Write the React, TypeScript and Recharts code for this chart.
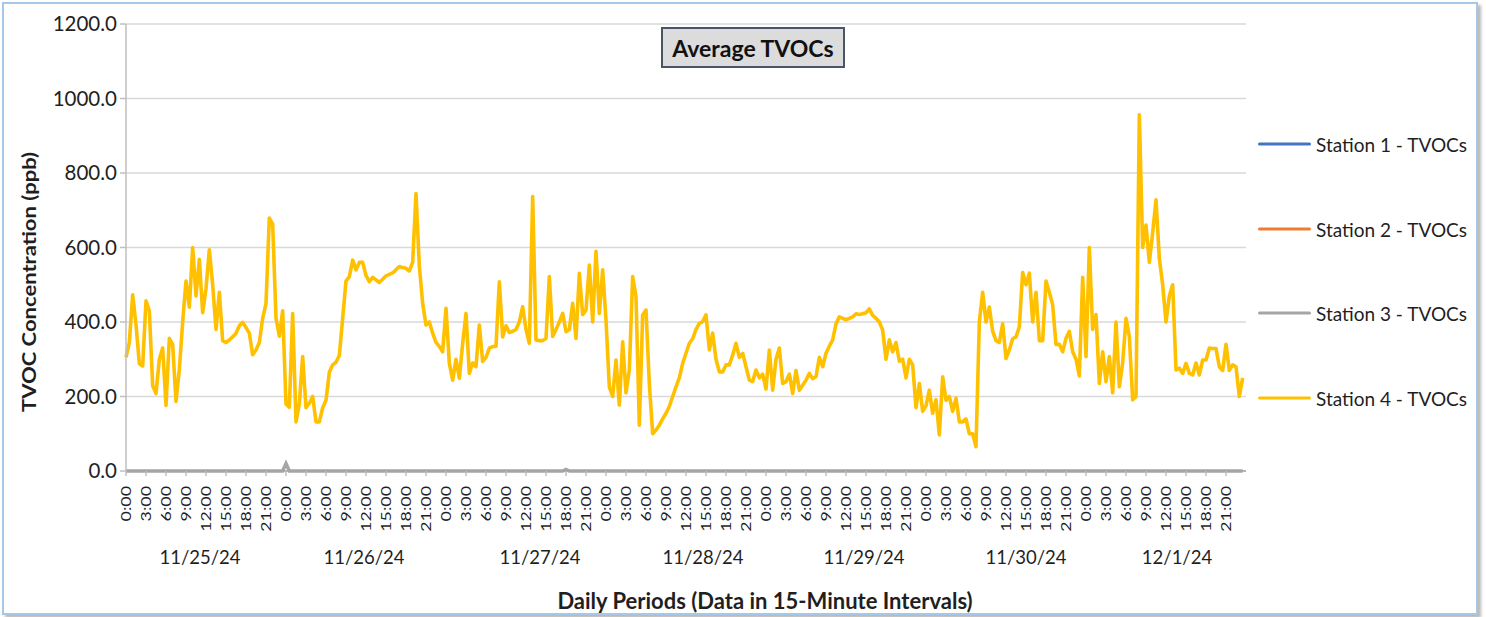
import { LineChart, Line, XAxis, YAxis, CartesianGrid } from "recharts";

// one reading every 30 minutes, 48 per day
const SLOTS = 48;
const SLOTS_PER_TICK = 6;

const days = ["11/25/24", "11/26/24", "11/27/24", "11/28/24", "11/29/24", "11/30/24", "12/1/24"];
const hourLabels = ["0:00", "3:00", "6:00", "9:00", "12:00", "15:00", "18:00", "21:00"];
const yTicks = [0, 200, 400, 600, 800, 1000, 1200];

// Station 4 - TVOCs (ppb)
const st4Nov25 = [305, 345, 473, 393, 288, 282, 457, 430, 229, 208, 300, 330, 176, 356, 340, 187, 272, 400, 510, 440, 600, 470, 568, 425, 490, 594, 500, 380, 480, 350, 345, 352, 360, 370, 390, 399, 385, 370, 312, 325, 345, 410, 450, 679, 663, 410, 362, 430];
const st4Nov26 = [180, 171, 423, 132, 180, 307, 170, 182, 200, 132, 132, 170, 190, 265, 285, 292, 310, 410, 510, 522, 566, 540, 560, 560, 525, 508, 520, 513, 506, 515, 524, 528, 532, 540, 549, 546, 544, 537, 560, 745, 550, 450, 392, 400, 370, 345, 334, 320];
const st4Nov27 = [437, 289, 244, 300, 249, 343, 423, 262, 290, 280, 392, 294, 305, 330, 334, 335, 508, 360, 390, 372, 375, 380, 400, 441, 380, 343, 737, 352, 350, 350, 356, 522, 361, 380, 400, 423, 374, 380, 450, 356, 531, 420, 432, 553, 400, 590, 423, 540];
const st4Nov28 = [405, 226, 200, 298, 177, 347, 210, 271, 522, 468, 123, 419, 432, 235, 100, 110, 123, 140, 155, 173, 200, 226, 250, 289, 316, 343, 355, 380, 396, 401, 419, 325, 370, 300, 266, 266, 285, 285, 311, 343, 305, 316, 280, 244, 240, 271, 250, 260];
const st4Nov29 = [220, 325, 217, 300, 330, 235, 240, 260, 208, 270, 217, 230, 244, 262, 248, 253, 305, 280, 316, 335, 352, 395, 414, 410, 406, 410, 414, 422, 420, 422, 425, 435, 418, 410, 400, 378, 300, 352, 320, 345, 295, 300, 250, 300, 285, 170, 235, 160];
const st4Nov30 = [175, 217, 155, 191, 97, 253, 190, 200, 160, 195, 132, 132, 140, 100, 100, 65, 400, 480, 400, 440, 375, 350, 345, 395, 302, 325, 355, 360, 387, 533, 500, 531, 400, 480, 350, 350, 510, 480, 446, 340, 340, 320, 356, 375, 320, 300, 255, 520];
const st4Dec1 = [307, 600, 380, 420, 235, 320, 240, 307, 210, 400, 226, 290, 410, 361, 191, 200, 956, 600, 660, 560, 640, 728, 571, 500, 400, 470, 500, 271, 276, 262, 289, 262, 258, 290, 258, 298, 298, 330, 329, 329, 280, 270, 340, 270, 285, 280, 200, 250];

// Station 3 - TVOCs (ppb), flat on zero apart from two blips
const st3Nov25 = [0, 0, 0, 0, 0, 0, 0, 0, 0, 0, 0, 0, 0, 0, 0, 0, 0, 0, 0, 0, 0, 0, 0, 0, 0, 0, 0, 0, 0, 0, 0, 0, 0, 0, 0, 0, 0, 0, 0, 0, 0, 0, 0, 0, 0, 0, 0, 0];
const st3Nov26 = [20, 0, 0, 0, 0, 0, 0, 0, 0, 0, 0, 0, 0, 0, 0, 0, 0, 0, 0, 0, 0, 0, 0, 0, 0, 0, 0, 0, 0, 0, 0, 0, 0, 0, 0, 0, 0, 0, 0, 0, 0, 0, 0, 0, 0, 0, 0, 0];
const st3Nov27 = [0, 0, 0, 0, 0, 0, 0, 0, 0, 0, 0, 0, 0, 0, 0, 0, 0, 0, 0, 0, 0, 0, 0, 0, 0, 0, 0, 0, 0, 0, 0, 0, 0, 0, 0, 0, 4, 0, 0, 0, 0, 0, 0, 0, 0, 0, 0, 0];
const st3Nov28 = [0, 0, 0, 0, 0, 0, 0, 0, 0, 0, 0, 0, 0, 0, 0, 0, 0, 0, 0, 0, 0, 0, 0, 0, 0, 0, 0, 0, 0, 0, 0, 0, 0, 0, 0, 0, 0, 0, 0, 0, 0, 0, 0, 0, 0, 0, 0, 0];
const st3Nov29 = [0, 0, 0, 0, 0, 0, 0, 0, 0, 0, 0, 0, 0, 0, 0, 0, 0, 0, 0, 0, 0, 0, 0, 0, 0, 0, 0, 0, 0, 0, 0, 0, 0, 0, 0, 0, 0, 0, 0, 0, 0, 0, 0, 0, 0, 0, 0, 0];
const st3Nov30 = [0, 0, 0, 0, 0, 0, 0, 0, 0, 0, 0, 0, 0, 0, 0, 0, 0, 0, 0, 0, 0, 0, 0, 0, 0, 0, 0, 0, 0, 0, 0, 0, 0, 0, 0, 0, 0, 0, 0, 0, 0, 0, 0, 0, 0, 0, 0, 0];
const st3Dec1 = [0, 0, 0, 0, 0, 0, 0, 0, 0, 0, 0, 0, 0, 0, 0, 0, 0, 0, 0, 0, 0, 0, 0, 0, 0, 0, 0, 0, 0, 0, 0, 0, 0, 0, 0, 0, 0, 0, 0, 0, 0, 0, 0, 0, 0, 0, 0, 0];

const station4 = [st4Nov25, st4Nov26, st4Nov27, st4Nov28, st4Nov29, st4Nov30, st4Dec1];
const station3 = [st3Nov25, st3Nov26, st3Nov27, st3Nov28, st3Nov29, st3Nov30, st3Dec1];

const series = [
  { key: "s1", name: "Station 1 - TVOCs", color: "#4472C4" },
  { key: "s2", name: "Station 2 - TVOCs", color: "#ED7D31" },
  { key: "s3", name: "Station 3 - TVOCs", color: "#A5A5A5" },
  { key: "s4", name: "Station 4 - TVOCs", color: "#FFC000" },
];

const rows = station4.flatMap((day, d) =>
  day.map((v, i) => ({ slot: d * SLOTS + i, s3: station3[d][i], s4: v }))
);

const xTicks = days.flatMap((_, d) => hourLabels.map((_, h) => d * SLOTS + h * SLOTS_PER_TICK));

// Excel puts the date captions a little off the day centres
const dateNudge = [-6, -2, 14, 17, 18, 20, 11];

const FONT = "Lato, 'Open Sans', sans-serif";
const TEXT = "#1f1f1f";

function TimeTick({ x, y, payload }: any) {
  const slot = payload.value;
  const d = Math.floor(slot / SLOTS);
  const h = (slot % SLOTS) / SLOTS_PER_TICK;
  return (
    <g>
      <text
        transform={`translate(${x},${y + 8}) scale(0.76,1) rotate(-90)`}
        textAnchor="end"
        dy="0.36em"
        fontSize={17.8}
        fontFamily={FONT}
        fill={TEXT}
      >
        {hourLabels[h]}
      </text>
      {h === 4 && (
        <text x={x + dateNudge[d]} y={y + 86} textAnchor="middle" fontSize={18.5} fontFamily={FONT} fill={TEXT}>
          {days[d]}
        </text>
      )}
    </g>
  );
}

const legendTop = [144, 229, 313, 398];

export default function App() {
  return (
    <div style={{ position: "relative", width: 1486, height: 617, background: "#fff", fontFamily: FONT }}>
      <style>{`body{margin:0}`}</style>
      <div
        style={{
          position: "absolute", left: 2, top: 2, width: 1472, height: 609,
          border: "2px solid #A7C7E7", boxShadow: "3px 3px 3px #b8b8b8",
        }}
      />
      <LineChart width={1486} height={617} data={rows} margin={{ top: 24, right: 240, left: 36, bottom: 16 }}>
        <CartesianGrid vertical={false} stroke="#D9D9D9" strokeWidth={1.5} />
        <XAxis
          type="number"
          dataKey="slot"
          domain={[0, days.length * SLOTS]}
          ticks={xTicks}
          interval={0}
          height={130}
          tick={<TimeTick />}
          tickSize={5}
          axisLine={{ stroke: "#A6A6A6", strokeWidth: 1.5 }}
          tickLine={{ stroke: "#BFBFBF", strokeWidth: 1.5 }}
        />
        <YAxis
          type="number"
          domain={[0, 1200]}
          ticks={yTicks}
          width={90}
          tickSize={6}
          tickMargin={3}
          tickFormatter={(v: number) => v.toFixed(1)}
          tick={{ fontSize: 20.5, fill: TEXT, fontFamily: FONT }}
          axisLine={{ stroke: "#BFBFBF", strokeWidth: 1.5 }}
          tickLine={{ stroke: "#BFBFBF", strokeWidth: 1.5 }}
        />
        <Line dataKey="s3" name="Station 3 - TVOCs" stroke="#A5A5A5" strokeWidth={3.5} dot={false} isAnimationActive={false} />
        <Line dataKey="s4" name="Station 4 - TVOCs" stroke="#FFC000" strokeWidth={3.6} dot={false} strokeLinejoin="round" isAnimationActive={false} />
      </LineChart>

      <div
        style={{
          position: "absolute", left: 661, top: 27, width: 180, height: 37,
          background: "#DCDCDC", border: "2px solid #4A5568",
          display: "flex", alignItems: "center", justifyContent: "center",
          fontWeight: 700, fontSize: 23, color: "#111",
        }}
      >
        Average TVOCs
      </div>

      <div
        style={{
          position: "absolute", left: 29, top: 282, whiteSpace: "nowrap",
          transform: "translate(-50%,-50%) rotate(-90deg) scaleY(0.85)",
          fontWeight: 700, fontSize: 22, color: TEXT,
        }}
      >
        TVOC Concentration (ppb)
      </div>

      <div
        style={{
          position: "absolute", left: 765, top: 600, whiteSpace: "nowrap",
          transform: "translate(-50%,-50%)", fontWeight: 700, fontSize: 22, color: TEXT,
        }}
      >
        Daily Periods (Data in 15-Minute Intervals)
      </div>

      {series.map((s, i) => (
        <div key={s.key} style={{ position: "absolute", left: 1258, top: legendTop[i], transform: "translateY(-50%)", display: "flex", alignItems: "center" }}>
          <div style={{ width: 53, height: 3, background: s.color, borderRadius: 2 }} />
          <span style={{ marginLeft: 5, fontSize: 19, color: TEXT, whiteSpace: "nowrap" }}>{s.name}</span>
        </div>
      ))}
    </div>
  );
}
